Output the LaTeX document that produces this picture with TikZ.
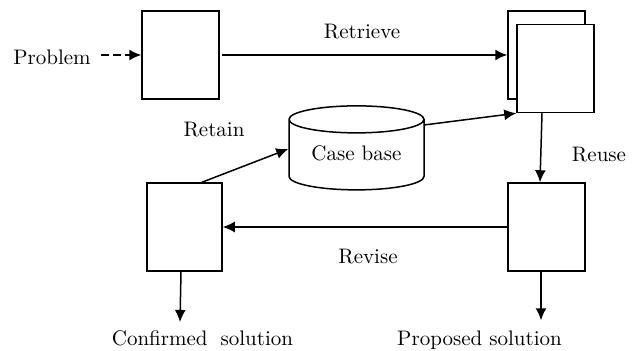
\documentclass[tikz,border=0pt]{standalone}
\usetikzlibrary{arrows.meta,shapes.geometric}
\begin{document}
\begin{tikzpicture}[x=0.5pt,y=-0.5pt,
  box/.style={draw,line width=0.75pt,fill=white,inner sep=0pt,minimum width=38.5pt,minimum height=44pt},
  arr/.style={line width=0.75pt,-{Latex[length=6pt,width=5.5pt]}},
  lbl/.style={inner sep=0pt,font=\fontsize{10.5}{12}\selectfont}]
\useasboundingbox (0,0) rectangle (632,351);
\node[box] (b1) at (180.5,55) {};
\node[box] (back) at (546.5,55) {};
\node[box] (front) at (555.5,68.5) {};
\node[box] (b4) at (546.5,227) {};
\node[box,minimum width=37.5pt] (b3) at (184.5,227) {};
\node[draw,line width=0.75pt,cylinder,shape border rotate=90,aspect=0.3,
  minimum height=42pt,minimum width=67.5pt,inner sep=0pt,font=\fontsize{10.5}{12}\selectfont] (cb) at (356.5,155) {\raisebox{2pt}{Case base}};
\coordinate (cbR) at (424,125);
\node[lbl] (prob) at (52,57) {Problem};
\node[lbl] (retr) at (362,32) {Retrieve};
\node[lbl] (reta) at (214,130) {Retain};
\node[lbl] (reuse) at (599,155) {Reuse};
\node[lbl] (revise) at (368,257) {Revise};
\node[lbl] (conf) at (202.5,338) {Confirmed\hspace{6.5pt}solution};
\node[lbl] (prop) at (479.5,340) {Proposed solution};
\draw[arr,dash pattern=on 4pt off 2pt] ([xshift=5pt]prob.east |- b1.west) -- (b1.west);
\draw[arr] ([xshift=1pt]b1.east) -- (back.west);
\draw[arr] (cbR) -- (front.south west);
\draw[arr] (front.south -| 542,0) -- (b4.north -| 540,0);
\draw[arr] (b4.west) -- (b3.east);
\draw[arr] (b3.north -| 202,0) -- ([yshift=3pt]cb.west);
\draw[arr] (b3.south -| 181,0) -- ([yshift=4pt]conf.north -| 180,0);
\draw[arr] (b4.south -| 541,0) -- ([yshift=5pt]prop.north -| 541,0);
\end{tikzpicture}
\end{document}
